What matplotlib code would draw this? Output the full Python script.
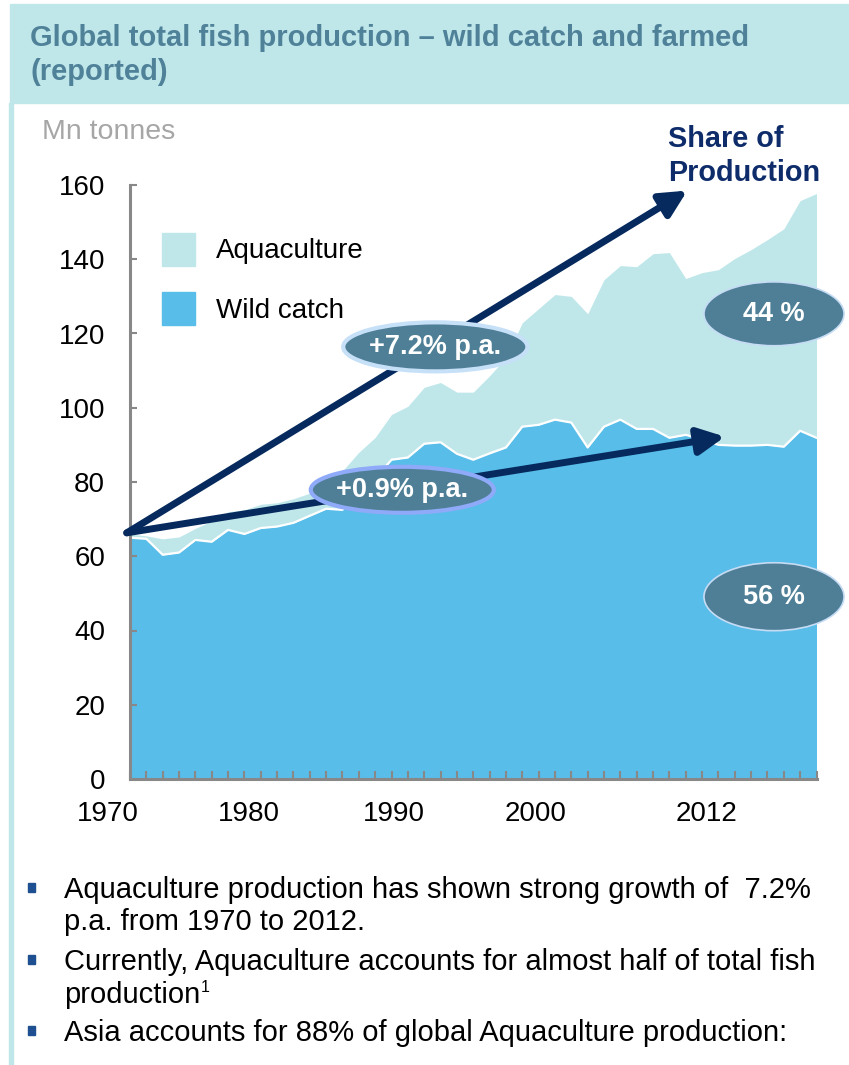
import numpy as np
import matplotlib
matplotlib.use('Agg')
import matplotlib.pyplot as plt
from matplotlib.patches import Ellipse, Rectangle, Patch

plt.rcParams['font.family'] = ['Liberation Sans', 'DejaVu Sans']

# data (Mn tonnes)
years = list(range(1970, 2013))
wild_catch = [65.0, 64.7, 60.4, 61.0, 64.4, 63.9, 67.1, 66.0, 67.6, 68.0, 69.0,
              70.9, 72.8, 72.5, 78.0, 81.0, 86.0, 86.6, 90.3, 90.7, 87.6, 86.0,
              87.7, 89.3, 94.9, 95.4, 96.8, 96.0, 89.3, 94.9, 96.8, 94.3, 94.3,
              91.9, 92.7, 91.5, 90.0, 89.8, 89.8, 90.0, 89.5, 93.8, 91.9]
total = [66.0, 65.5, 64.7, 65.2, 67.5, 69.5, 72.0, 72.5, 74.0, 74.4, 75.5,
         77.0, 79.0, 83.0, 88.0, 92.0, 98.2, 100.4, 105.5, 106.8, 104.2, 104.2,
         108.6, 113.5, 122.9, 126.7, 130.5, 130.0, 125.3, 134.5, 138.3, 138.0,
         141.5, 141.8, 134.8, 136.4, 137.2, 140.2, 142.6, 145.3, 148.2, 155.8, 157.7]
x_labels = ['1970', '1980', '1990', '2000', '2012']
series_names = ['Aquaculture', 'Wild catch']
growth_labels = ['+7.2% p.a.', '+0.9% p.a.']
share_labels = ['44 %', '56 %']
bullets = [
    ['Aquaculture production has shown strong growth of  7.2%', 'p.a. from 1970 to 2012.'],
    ['Currently, Aquaculture accounts for almost half of total fish', 'production'],
    ['Asia accounts for 88% of global Aquaculture production:'],
]

W, H = 849, 1065
fig = plt.figure(figsize=(W / 100, H / 100), dpi=100)


def fx(px):
    return px / W


def fy(py):
    return 1 - py / H


light = '#bfe7ea'
wild_col = '#58bde9'
navy = '#062a5e'
oval = '#4e7f97'
grey = '#888888'

# header band and left border
fig.patches.append(Rectangle((fx(10), fy(103)), 1 - fx(10), 99 / H,
                             transform=fig.transFigure, color=light, zorder=0))
fig.patches.append(Rectangle((fx(9), 0), 4 / W, fy(103),
                             transform=fig.transFigure, color=light, zorder=0))
fig.text(fx(30), fy(38), 'Global total fish production \u2013 wild catch and farmed',
         fontsize=21, weight='bold', color='#4f8199', va='center')
fig.text(fx(30), fy(72), '(reported)', fontsize=21, weight='bold',
         color='#4f8199', va='center')

fig.text(fx(42), fy(132), 'Mn tonnes', fontsize=20.5, color='#a6a6a6', va='center')
fig.text(fx(668), fy(139), 'Share of', fontsize=20.8, weight='bold', color='#0e2c6a', va='center')
fig.text(fx(668), fy(173), 'Production', fontsize=20.8, weight='bold', color='#0e2c6a', va='center')

ax = fig.add_axes([fx(130), fy(779), (816.5 - 130) / W, (779 - 185) / H])
x = np.arange(len(years))
ax.fill_between(x, 0, wild_catch, color=wild_col, lw=0)
ax.fill_between(x, wild_catch, total, color=light, lw=0)
ax.plot(x, wild_catch, color='white', lw=1.6)
ax.set_xlim(0, len(years) - 1)
ax.set_ylim(0, 160)

for s in ['top', 'right']:
    ax.spines[s].set_visible(False)
for s in ['left', 'bottom']:
    ax.spines[s].set_color(grey)
    ax.spines[s].set_linewidth(2.2)

ax.set_yticks(range(0, 161, 20))
ax.tick_params(axis='y', direction='in', length=5, width=1.5, color=grey,
               labelsize=20, pad=18)
ax.set_xticks([])
ax.set_xticks(x, minor=True)
ax.tick_params(axis='x', which='minor', direction='in', length=6, width=1.5, color=grey)

# year labels sit where the original put them (not on the data years)
label_pos = [-1.35, 7.3, 16.15, 24.8, 35.3]
for pos, lbl in zip(label_pos, x_labels):
    ax.annotate(lbl, xy=(pos, 0), xycoords=('data', 'axes fraction'),
                xytext=(0, -16), textcoords='offset points', ha='center', va='top',
                fontsize=20, annotation_clip=False)

leg = ax.legend(handles=[Patch(color=light, label=series_names[0]),
                         Patch(color=wild_col, label=series_names[1])],
                loc='upper left', bbox_to_anchor=(0.046, 0.92), frameon=False,
                fontsize=20, handlelength=1.2, handleheight=1.45,
                labelspacing=0.95, handletextpad=0.75, borderpad=0, borderaxespad=0)

# growth arrows
arrow_kw = dict(arrowstyle='-|>,head_length=0.8,head_width=0.4', lw=5, color=navy,
                shrinkA=0, shrinkB=0, mutation_scale=20)
ax.annotate('', xy=(34.1, 158.5), xytext=(-0.2, 66.3), arrowprops=arrow_kw,
            annotation_clip=False, zorder=4)
ax.annotate('', xy=(36.4, 92.2), xytext=(-0.2, 66.3), arrowprops=arrow_kw,
            annotation_clip=False, zorder=4)

# labels in ovals
ovals = [((18.68, 116.4), 11.27, 13.2, '#c6e0f8', 3.0, growth_labels[0]),
         ((16.66, 77.9), 11.2, 12.4, '#8eaaf8', 3.0, growth_labels[1]),
         ((39.4, 125.3), 8.57, 17.2, '#c6dcf4', 1.2, share_labels[0]),
         ((39.4, 49.1), 8.57, 18.3, '#c6dcf4', 1.2, share_labels[1])]
for c, w, h, ec, lw, txt in ovals:
    ax.add_patch(Ellipse(c, w, h, facecolor=oval, edgecolor=ec, lw=lw,
                         clip_on=False, zorder=5))
    ax.text(c[0], c[1], txt, ha='center', va='center', color='white',
            fontsize=19.5, weight='bold', zorder=6, clip_on=False)

# bullet points
line_y = [[890, 922], [962, 995], [1033]]
for lines, ys in zip(bullets, line_y):
    fig.patches.append(Rectangle((fx(28), fy(ys[0] + 2)), 7 / W, 9 / H,
                                 transform=fig.transFigure, color='#1d4f91'))
    for t, yy in zip(lines, ys):
        fig.text(fx(64), fy(yy), t, fontsize=21, va='center')

fig.canvas.draw()
bb = fig.texts[-2].get_window_extent()
fig.text(bb.x1 / W + 0.001, fy(987), '1', fontsize=11.5, va='center')

fig.savefig('out.png', dpi=100)
